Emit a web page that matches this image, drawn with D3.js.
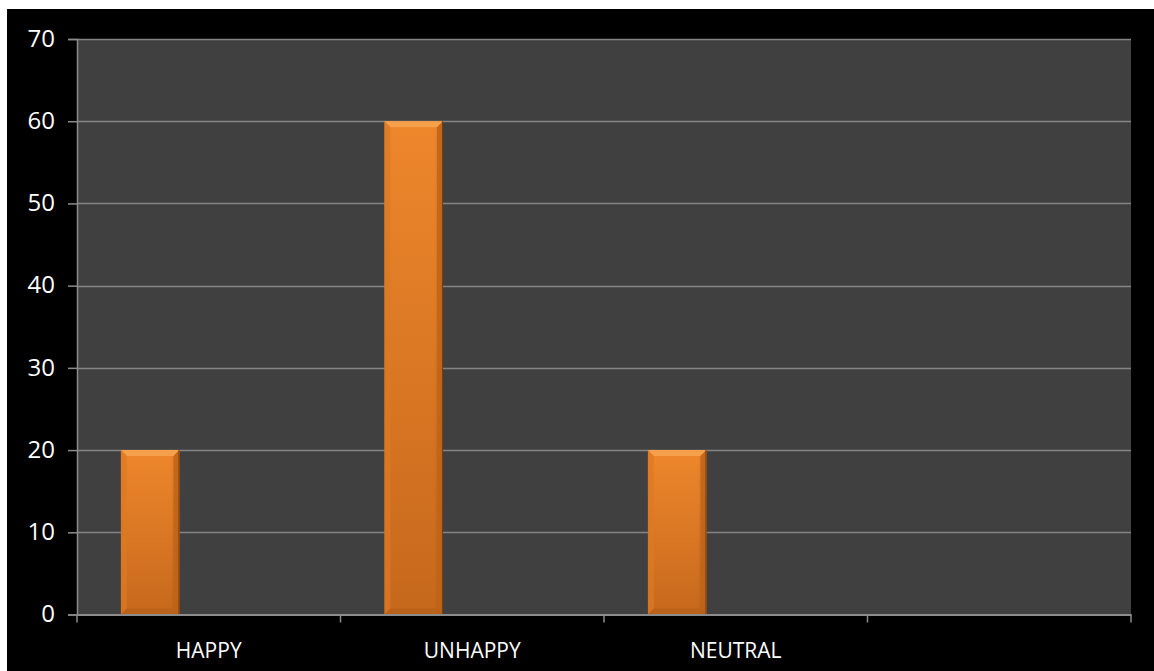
<!DOCTYPE html>
<html>
<head>
<meta charset="utf-8">
<script src="https://cdn.jsdelivr.net/npm/d3@7"></script>
<style>
  html, body { margin: 0; padding: 0; background: #ffffff; }
  svg { display: block; }
</style>
</head>
<body>
<svg id="chart" width="1154" height="671"></svg>
<script>
// Survey responses by mood category
const categories = ["HAPPY", "UNHAPPY", "NEUTRAL", ""];
const seriesNames = ["Series 1", "Series 2", "Series 3"];
const series1 = [20, 60, 20, null];
const series2 = [null, null, null, null];
const series3 = [null, null, null, null];
const yTicks = [0, 10, 20, 30, 40, 50, 60, 70];

const seriesValues = [series1, series2, series3];

const W = 1154, H = 671;
const plot = { left: 77, right: 1131, top: 39, bottom: 614.5 };

const svg = d3.select("#chart");

// outer chart background
svg.append("rect").attr("x", 7).attr("y", 9).attr("width", W - 7).attr("height", H - 9).attr("fill", "#000000");

// plot area
svg.append("rect")
  .attr("x", plot.left).attr("y", plot.top)
  .attr("width", plot.right - plot.left).attr("height", plot.bottom - plot.top)
  .attr("fill", "#404040");

const x = d3.scaleBand().domain(d3.range(categories.length)).range([plot.left, plot.right]).padding(0);
// gap of 150% of a bar width shared by both sides of each cluster
const gap = 1.5;
const inner = d3.scaleBand().domain(seriesNames)
  .range([0, x.bandwidth()])
  .paddingInner(0)
  .paddingOuter(gap / 2);
const y = d3.scaleLinear().domain([0, 70]).range([plot.bottom, plot.top]);

// gradients
const defs = svg.append("defs");
const body = defs.append("linearGradient").attr("id", "barBody").attr("x1", 0).attr("y1", 0).attr("x2", 0).attr("y2", 1);
body.append("stop").attr("offset", "0%").attr("stop-color", "#ee872c");
body.append("stop").attr("offset", "100%").attr("stop-color", "#c6681c");
const side = defs.append("linearGradient").attr("id", "barSide").attr("x1", 0).attr("y1", 0).attr("x2", 1).attr("y2", 0);
side.append("stop").attr("offset", "0%").attr("stop-color", "#000").attr("stop-opacity", 0.06);
side.append("stop").attr("offset", "12%").attr("stop-color", "#000").attr("stop-opacity", 0);
side.append("stop").attr("offset", "85%").attr("stop-color", "#000").attr("stop-opacity", 0);
side.append("stop").attr("offset", "100%").attr("stop-color", "#000").attr("stop-opacity", 0.15);

// gridlines
svg.append("g")
  .selectAll("line")
  .data(yTicks.filter(t => t > 0))
  .join("line")
  .attr("x1", plot.left).attr("x2", plot.right)
  .attr("y1", d => Math.round(y(d)) + 0.5).attr("y2", d => Math.round(y(d)) + 0.5)
  .attr("stroke", "#858585").attr("stroke-width", 1.5);

// bars
const bars = [];
seriesValues.forEach((vals, si) => {
  vals.forEach((v, ci) => {
    if (v == null) return;
    bars.push({ ci, si, v });
  });
});

const barG = svg.append("g").selectAll("g").data(bars).join("g")
  .attr("transform", d => `translate(${x(d.ci) + inner(seriesNames[d.si])},${y(d.v)})`);

barG.each(function (d) {
  const g = d3.select(this);
  const w = inner.bandwidth();
  const h = y(0) - y(d.v);
  const b = 6;
  g.append("rect").attr("width", w).attr("height", h).attr("fill", "url(#barBody)");
  g.append("rect").attr("width", w).attr("height", h).attr("fill", "url(#barSide)");
  // top bevel
  g.append("path").attr("d", `M0,0 L${w},0 L${w - b},${b} L${b},${b} Z`).attr("fill", "#f6a04c");
  // left bevel
  g.append("path").attr("d", `M0,0 L${b},${b} L${b},${h - b} L0,${h} Z`).attr("fill", "#e07a24").attr("opacity", 0.7);
  // right bevel
  g.append("path").attr("d", `M${w},0 L${w},${h} L${w - b},${h - b} L${w - b},${b} Z`).attr("fill", "#c06419").attr("opacity", 0.85);
  // bottom bevel
  g.append("path").attr("d", `M0,${h} L${b},${h - b} L${w - b},${h - b} L${w},${h} Z`).attr("fill", "#b8601a").attr("opacity", 0.8);
  // dark edge line on the right
  g.append("line").attr("x1", w - 0.5).attr("x2", w - 0.5).attr("y1", 0).attr("y2", h).attr("stroke", "#7a3e0c").attr("stroke-width", 1);
});

// axes
const axisColor = "#8c8c8c";
const yAxis = svg.append("g").attr("transform", `translate(${plot.left},0)`)
  .call(d3.axisLeft(y).tickValues(yTicks).tickSize(9).tickPadding(13).tickFormat(d3.format("d")));
yAxis.select(".domain").attr("stroke", axisColor).attr("stroke-width", 1.5);
yAxis.selectAll(".tick line").attr("stroke", axisColor).attr("stroke-width", 1.5);
yAxis.selectAll(".tick text")
  .attr("fill", "#ffffff").attr("font-family", "'Open Sans', sans-serif").attr("font-size", 24)
  .attr("dy", "0.3em");

const xAxis = svg.append("g").attr("transform", `translate(0,${plot.bottom})`)
  .call(d3.axisBottom(x).tickSize(0).tickPadding(29).tickFormat(i => categories[i]));
xAxis.select(".domain").attr("stroke", axisColor).attr("stroke-width", 2);
xAxis.selectAll(".tick text")
  .attr("fill", "#ffffff").attr("font-family", "'Open Sans', sans-serif").attr("font-size", 21);

// category boundary ticks
const boundaries = d3.range(categories.length + 1).map(i => plot.left + i * x.bandwidth());
svg.append("g").selectAll("line").data(boundaries).join("line")
  .attr("x1", d => d).attr("x2", d => d)
  .attr("y1", plot.bottom).attr("y2", plot.bottom + 8)
  .attr("stroke", axisColor).attr("stroke-width", 1.5);
</script>
</body>
</html>
